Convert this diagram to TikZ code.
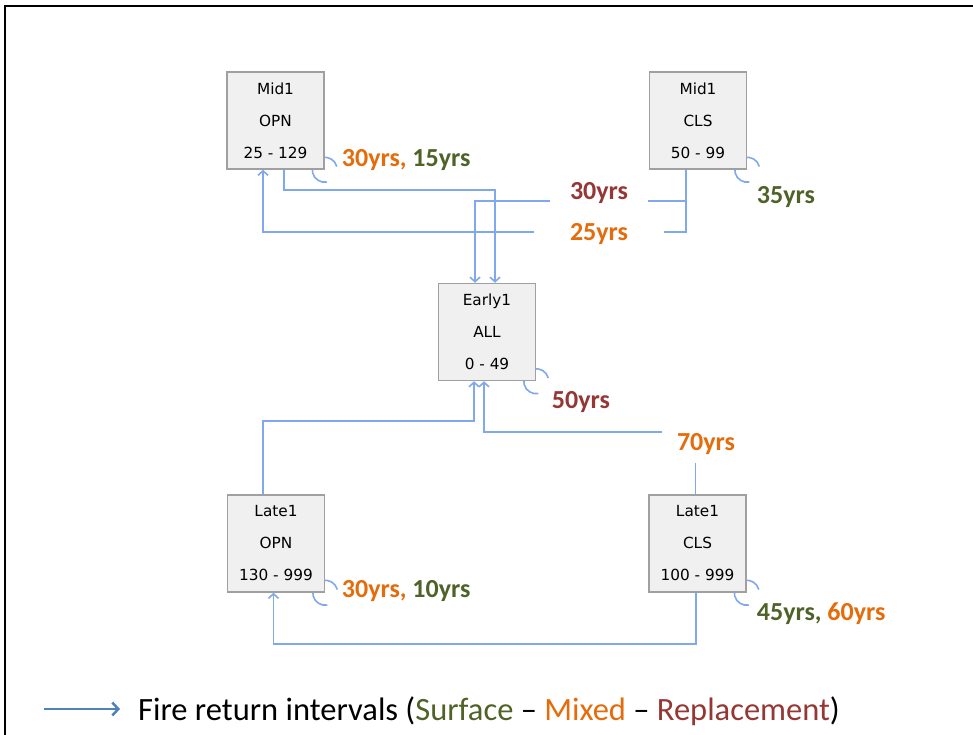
\documentclass[tikz,border=0pt]{standalone}
\usepackage{fontspec}
\setmainfont{Carlito}
\newfontfamily\boxfont{DejaVu Sans}
\usetikzlibrary{arrows.meta,backgrounds}

\definecolor{fireorange}{RGB}{228,108,10}
\definecolor{firegreen}{RGB}{79,98,40}
\definecolor{firered}{RGB}{149,55,53}
\definecolor{connblue}{RGB}{128,168,236}
\definecolor{legendblue}{RGB}{79,129,189}
\definecolor{boxfill}{RGB}{240,240,240}
\definecolor{boxline}{RGB}{160,160,160}

\begin{document}
\begin{tikzpicture}[x=1pt,y=-1pt,
  statebox/.style={draw=boxline, fill=boxfill, line width=1.5pt,
    minimum width=97pt, minimum height=97pt, inner sep=0pt,
    align=center, font=\boxfont\fontsize{15.3}{32}\selectfont},
  conn/.style={draw=connblue, line width=1.6pt},
  flow/.style={conn, -{Straight Barb[length=4.5pt,width=10pt]}},
  yrs/.style={font=\bfseries\fontsize{26}{30}\selectfont, inner sep=0pt, anchor=base west},
  gaplabel/.style={font=\bfseries\fontsize{26}{30}\selectfont, fill=white, anchor=base},
  selfloop/.style={conn}
]
\useasboundingbox (0,0) rectangle (973,735);

% outer frame (top and left edges)
\draw[line width=2.5pt] (5,735) -- (5,6) -- (973,6);

% succession classes
\node[statebox] (mo) at (275.5,120.5) {Mid1\\OPN\\25 - 129};
\node[statebox] (mc) at (698,120.5) {Mid1\\CLS\\50 - 99};
\node[statebox] (e)  at (487,332) {Early1\\ALL\\0 - 49};
\node[statebox] (lo) at (276,543.5) {Late1\\OPN\\130 - 999};
\node[statebox] (lc) at (697.5,543.5) {Late1\\CLS\\100 - 999};

% self transitions, partly hidden behind the boxes
\begin{scope}[on background layer]
  \foreach \b in {mo,mc,e,lo,lc}
    \draw[selfloop] ([shift={(-15:12.5)}]\b.south east) arc[start angle=-15, end angle=-280, radius=12.5];
\end{scope}

% transitions between classes
\draw[flow] ([xshift=8.5pt]mo.south) -- ++(0,20) -| ([xshift=8pt]e.north);
\draw[flow] ([xshift=-12pt]mc.south) -- ++(0,31) -| ([xshift=-12pt]e.north);
\draw[flow] ([xshift=-12pt]mc.south) -- ++(0,62) -| ([xshift=-12.5pt]mo.south);
\draw[flow] ([xshift=-13pt]lo.north) -- ++(0,-73) -| ([xshift=-13pt]e.south);
\draw[flow] ([xshift=-2pt]lc.north) -- ++(0,-62) -| ([xshift=-3pt]e.south);
\draw[flow] ([xshift=-1.5pt]lc.south) -- ++(0,51) -| ([xshift=-2.5pt]lo.south);

% interval labels set into the connectors
\node[gaplabel, text=firered, inner xsep=20pt, inner ysep=4pt] (l30) at (599,199.3) {30yrs};
\node[gaplabel, text=fireorange, inner xsep=36.5pt, inner ysep=4pt] (l25) at (599,240.7) {25yrs};
\node[gaplabel, text=fireorange, inner xsep=15pt, inner ysep=8pt] (l70) at (706,450.7) {70yrs};

% interval labels beside the self transitions
\node[yrs] (lmo) at (341.7,166.5) {\textcolor{fireorange}{30yrs,} \textcolor{firegreen}{15yrs}};
\node[yrs, text=firegreen] (lmc) at (756.7,203.3) {35yrs};
\node[yrs, text=firered] (le) at (551.7,408.3) {50yrs};
\node[yrs] (llo) at (341.7,597) {\textcolor{fireorange}{30yrs,} \textcolor{firegreen}{10yrs}};
\node[yrs] (llc) at (756.7,620.7) {\textcolor{firegreen}{45yrs,} \textcolor{fireorange}{60yrs}};

% legend
\coordinate (ka) at (44,709);
\node[font=\fontsize{32.5}{36}\selectfont, inner sep=0pt, anchor=base west] (key) at (138,720)
  {Fire return intervals (\textcolor{firegreen}{Surface} -- \textcolor{fireorange}{Mixed} -- \textcolor{firered}{Replacement})};
\draw[legendblue, line width=2.5pt, -{Straight Barb[length=6pt,width=13pt]}] (ka) -- (ka -| 120,0);
\end{tikzpicture}
\end{document}
